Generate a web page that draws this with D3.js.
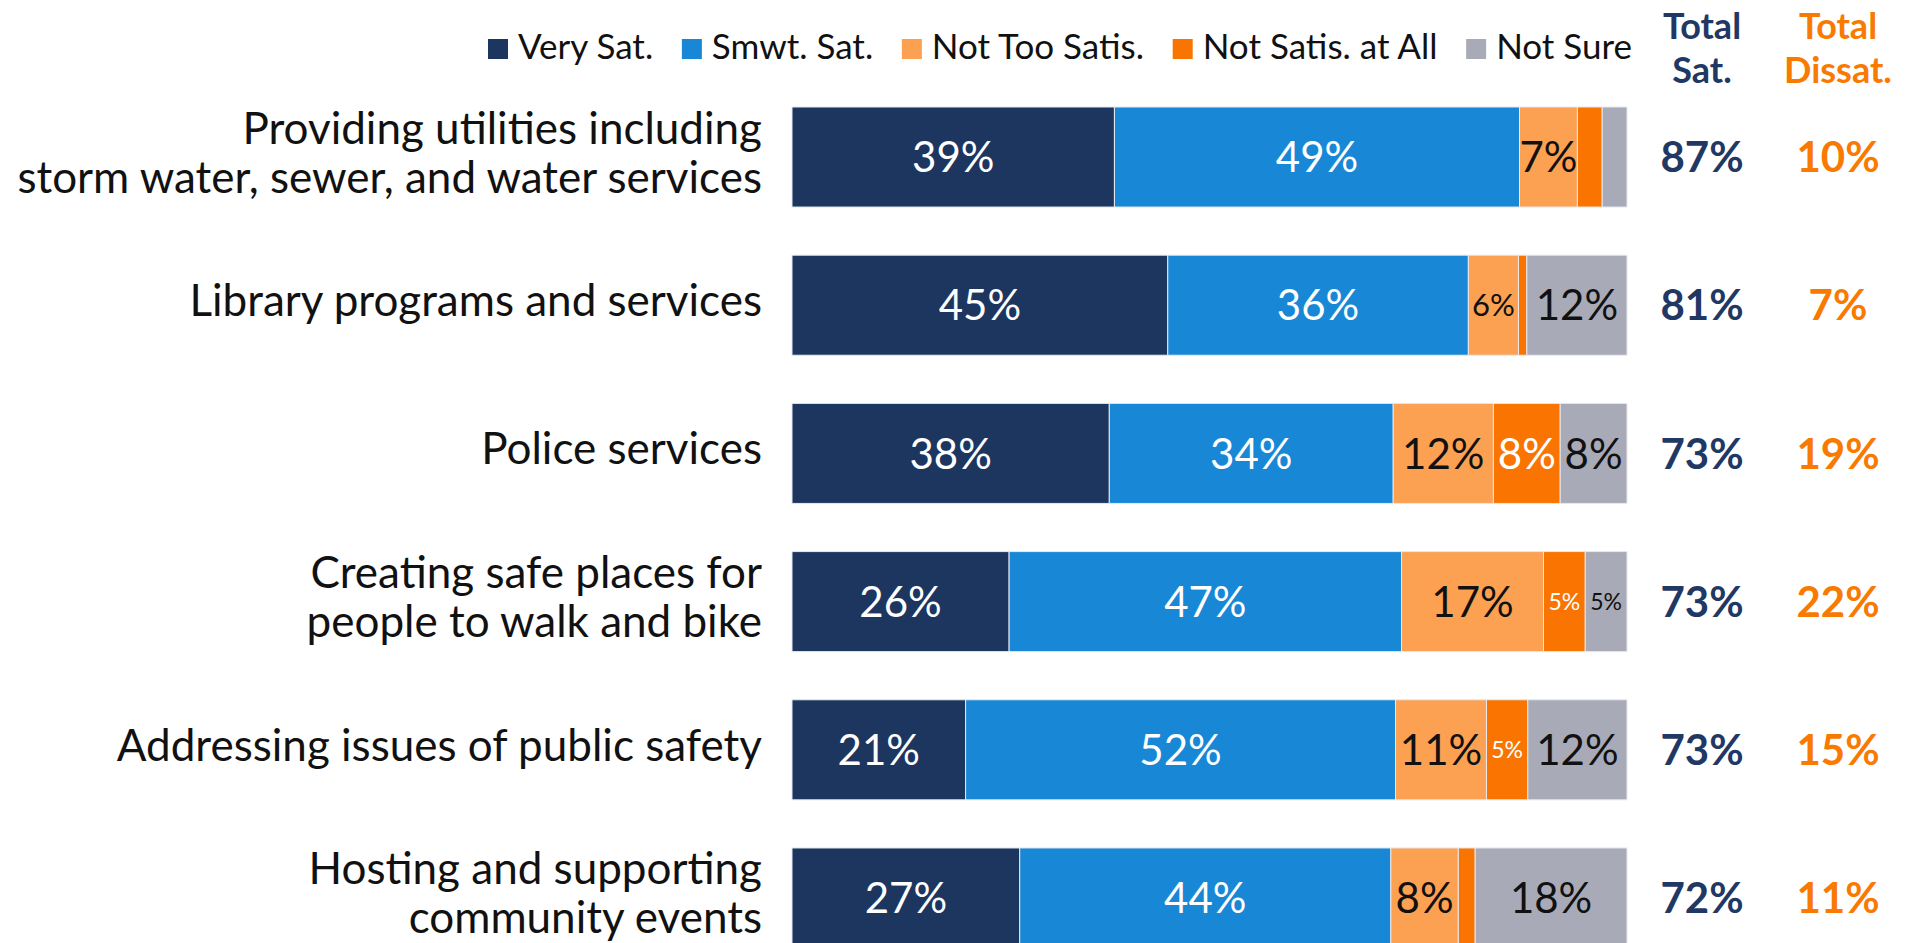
<!DOCTYPE html>
<html>
<head>
<meta charset="utf-8">
<script src="https://cdn.jsdelivr.net/npm/d3@7"></script>
<style>
  html, body { margin: 0; padding: 0; background: #ffffff; }
  svg { display: block; }
  text { font-family: Lato, "Open Sans", sans-serif; }
</style>
</head>
<body>
<svg id="chart" width="1907" height="943"></svg>
<script>
// ---- Data ----
const categories = [
  "Providing utilities including|storm water, sewer, and water services",
  "Library programs and services",
  "Police services",
  "Creating safe places for|people to walk and bike",
  "Addressing issues of public safety",
  "Hosting and supporting|community events"
];
const seriesNames = ["Very Sat.", "Smwt. Sat.", "Not Too Satis.", "Not Satis. at All", "Not Sure"];
const verySat       = [39, 45, 38, 26, 21, 27];
const smwtSat       = [49, 36, 34, 47, 52, 44];
const notTooSatis   = [7, 6, 12, 17, 11, 8];
const notSatisAtAll = [3, 1, 8, 5, 5, 2];
const notSure       = [3, 12, 8, 5, 12, 18];
const totalSat      = [87, 81, 73, 73, 73, 72];
const totalDissat   = [10, 7, 19, 22, 15, 11];
const headerSat     = ["Total", "Sat."];
const headerDissat  = ["Total", "Dissat."];

// ---- Styles ----
const colors = ["#1d3660", "#1888d6", "#fca052", "#f97400", "#a8aab8"];
const labelColors = ["#ffffff", "#ffffff", "#111111", "#ffffff", "#111111"];
const satColor = "#1f3864";
const dissatColor = "#f97a00";

const seriesValues = [verySat, smwtSat, notTooSatis, notSatisAtAll, notSure];
const rows = categories.map((c, i) => {
  const r = { cat: c };
  seriesNames.forEach((s, j) => r[s] = seriesValues[j][i]);
  return r;
});

const svg = d3.select("#chart");

const x = d3.scaleLinear().domain([0, 1]).range([792, 1627]);
const y = d3.scaleBand().domain(categories).range([107, 948]).paddingInner(0.325).paddingOuter(0);

const stack = d3.stack().keys(seriesNames).offset(d3.stackOffsetExpand);
const stacked = stack(rows);

// Bars
const layers = svg.append("g").selectAll("g")
  .data(stacked)
  .join("g")
  .attr("fill", (d, i) => colors[i]);

layers.selectAll("rect")
  .data(d => d)
  .join("rect")
  .attr("x", d => x(d[0]))
  .attr("y", d => y(d.data.cat))
  .attr("width", d => x(d[1]) - x(d[0]))
  .attr("height", y.bandwidth())
  .attr("stroke", "#e6e9ef")
  .attr("stroke-width", 1);

// Segment labels
stacked.forEach((layer, li) => {
  svg.append("g").selectAll("text")
    .data(layer)
    .join("text")
    .filter(d => d.data[seriesNames[li]] >= 5)
    .attr("x", d => (x(d[0]) + x(d[1])) / 2)
    .attr("y", d => y(d.data.cat) + y.bandwidth() / 2)
    .attr("dy", "0.36em")
    .attr("text-anchor", "middle")
    .attr("fill", labelColors[li])
    .style("font-size", d => {
      const v = d.data[seriesNames[li]];
      return (v < 6 ? 23 : v < 7 ? 31 : 42) + "px";
    })
    .text(d => d.data[seriesNames[li]] + "%");
});

// Category labels
const catG = svg.append("g");
categories.forEach(c => {
  const lines = c.split("|");
  const cy = y(c) + y.bandwidth() / 2;
  const t = catG.append("text")
    .attr("text-anchor", "end")
    .attr("fill", "#111111")
    .style("font-size", "44px");
  lines.forEach((ln, k) => {
    const base = cy + 11 - (lines.length - 1) * 24.5 + k * 49;
    t.append("tspan").attr("x", 762).attr("y", base).text(ln);
  });
});

// Totals columns
const colSat = 1702, colDissat = 1838;
const totG = svg.append("g").style("font-weight", "bold").style("font-size", "42px").attr("text-anchor", "middle");
totG.selectAll("text.sat")
  .data(totalSat)
  .join("text")
  .attr("class", "sat")
  .attr("x", colSat)
  .attr("y", (d, i) => y(categories[i]) + y.bandwidth() / 2)
  .attr("dy", "0.36em")
  .attr("fill", satColor)
  .text(d => d + "%");
totG.selectAll("text.dissat")
  .data(totalDissat)
  .join("text")
  .attr("class", "dissat")
  .attr("x", colDissat)
  .attr("y", (d, i) => y(categories[i]) + y.bandwidth() / 2)
  .attr("dy", "0.36em")
  .attr("fill", dissatColor)
  .text(d => d + "%");

// Headers (two lines each; leading kept just wide enough that lines don't collide)
const hdr = svg.append("g").style("font-weight", "bold").style("font-size", "36px").attr("text-anchor", "middle");
[[headerSat, colSat, satColor], [headerDissat, colDissat, dissatColor]].forEach(([lines, cx, col]) => {
  lines.forEach((h, k) => hdr.append("text").attr("x", cx).attr("y", 39 + k * 44).attr("fill", col).text(h));
});

// Legend
const legG = svg.append("g");
const items = legG.selectAll("g")
  .data(seriesNames)
  .join("g");
items.append("rect")
  .attr("width", 20).attr("height", 20)
  .attr("y", 39)
  .attr("fill", (d, i) => colors[i]);
items.append("text")
  .attr("x", 30)
  .attr("y", 59)
  .attr("fill", "#111111")
  .style("font-size", "35px")
  .text(d => d);
const widths = [];
items.each(function () { widths.push(d3.select(this).select("text").node().getComputedTextLength() + 30); });
const legStart = 488, legEnd = 1632;
const gap = (legEnd - legStart - d3.sum(widths)) / (seriesNames.length - 1);
let cx = legStart;
items.each(function (d, i) {
  d3.select(this).attr("transform", `translate(${cx},0)`);
  cx += widths[i] + gap;
});
</script>
</body>
</html>
